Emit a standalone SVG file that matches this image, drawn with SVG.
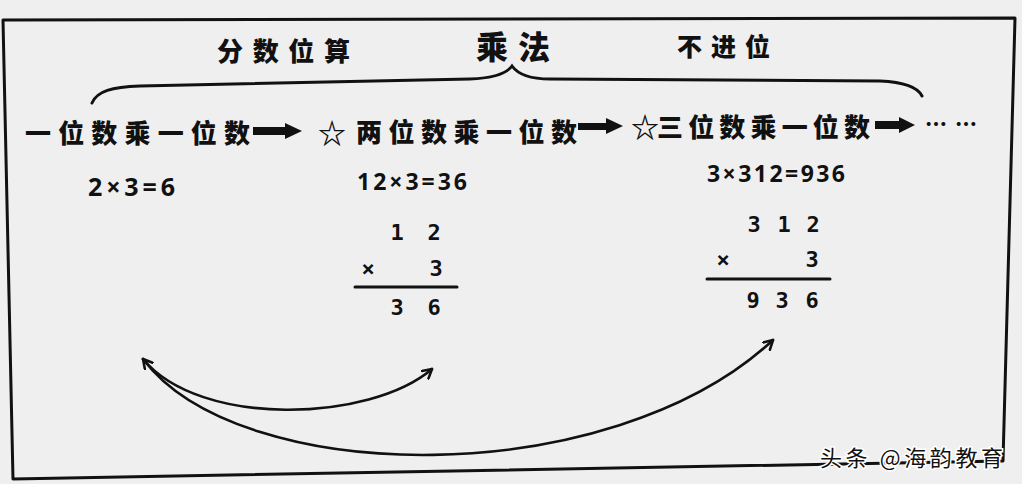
<svg xmlns="http://www.w3.org/2000/svg" width="1022" height="484" viewBox="0 0 1022 484">
<style>
.cjk{font-family:"Noto Sans CJK SC","Noto Sans",sans-serif;font-weight:900;fill:#111}
.eq{font-family:"Open Sans","DejaVu Sans",sans-serif;font-weight:700;fill:#111}
.vd{font-family:"DejaVu Sans Mono","Liberation Mono",monospace;font-weight:bold;font-size:22px;fill:#111;text-anchor:middle}
.ln{fill:none;stroke:#111;stroke-linecap:round}
.blk{fill:#111}
</style>
<defs>
<marker id="chev" viewBox="0 0 12 12" refX="10" refY="6" markerWidth="12" markerHeight="12" markerUnits="userSpaceOnUse" orient="auto-start-reverse">
<path d="M1,1 L10,6 L1,11" fill="none" stroke="#111" stroke-width="2.6" stroke-linecap="round" stroke-linejoin="round"/>
</marker>
</defs>
<rect x="0" y="0" width="1022" height="484" fill="#efeff0"/>
<g id="frame">
<path class="ln" d="M3,20 L1015,18 L1003,461 L13,479 Z" stroke-width="3" stroke-linejoin="round"/>
</g>
<g id="brace">
<path class="ln" stroke-width="3" d="M92,103 C97,91 112,87 140,86 L470,79 C496,78 507,73 512,66 C517,73 528,79 550,79 L880,81 C905,82 918,88 922,96"/>
</g>
<g id="top-labels">
<text class="cjk" x="217" y="61" font-size="26" textLength="133" lengthAdjust="spacing">分数位算</text>
<text class="cjk" x="476" y="59" font-size="32" textLength="74" lengthAdjust="spacing">乘法</text>
<text class="cjk" x="677" y="56" font-size="25" textLength="93" lengthAdjust="spacing">不进位</text>
</g>
<g id="node1">
<text class="cjk" x="25" y="143" font-size="26" textLength="225" lengthAdjust="spacing">一位数乘一位数</text>
<text class="eq" x="88" y="196" font-size="25" textLength="87" lengthAdjust="spacing">2×3=6</text>
</g>
<g id="node2">
<text class="cjk" x="318" y="144" font-size="28">☆</text>
<text class="cjk" x="356" y="142" font-size="26" textLength="221" lengthAdjust="spacing">两位数乘一位数</text>
<text class="eq" x="357" y="190" font-size="23" textLength="110" lengthAdjust="spacing">12×3=36</text>
<text class="vd" x="397" y="240">1</text>
<text class="vd" x="434" y="240">2</text>
<text class="vd" x="368" y="276">×</text>
<text class="vd" x="436" y="276">3</text>
<path class="ln" d="M355,287 L457,287" stroke-width="3"/>
<text class="vd" x="397" y="315">3</text>
<text class="vd" x="434" y="315">6</text>
</g>
<g id="node3">
<text class="cjk" x="631" y="138" font-size="28">☆</text>
<text class="cjk" x="657" y="137" font-size="26" textLength="213" lengthAdjust="spacing">三位数乘一位数</text>
<text class="eq" x="707" y="182" font-size="23" textLength="138" lengthAdjust="spacing">3×312=936</text>
<text class="vd" x="754" y="232">3</text>
<text class="vd" x="784" y="232">1</text>
<text class="vd" x="813" y="232">2</text>
<text class="vd" x="723" y="267">×</text>
<text class="vd" x="812" y="267">3</text>
<path class="ln" d="M707,279 L830,279" stroke-width="3"/>
<text class="vd" x="753" y="308">9</text>
<text class="vd" x="782" y="308">3</text>
<text class="vd" x="812" y="308">6</text>
</g>
<g id="node4">
<text class="cjk" x="925" y="132" font-size="22" textLength="52" lengthAdjust="spacing">……</text>
</g>
<g id="connectors">
<path class="blk" d="M253,127 L285,127 L285,123 L302,131 L285,139 L285,135 L253,135 Z"/>
<path class="blk" d="M578,123 L606,123 L606,118 L623,126 L606,134 L606,130 L578,130 Z"/>
<path class="blk" d="M875,121 L899,121 L899,117 L915,125 L899,133 L899,129 L875,129 Z"/>
<path class="ln" stroke-width="2.6" d="M143,359 C200,428 370,422 432,369" marker-start="url(#chev)" marker-end="url(#chev)"/>
<path class="ln" stroke-width="2.6" d="M143,359 C240,488 610,492 773,340" marker-end="url(#chev)"/>
</g>
<g id="watermark">
<text x="820" y="466" font-family="Noto Sans CJK SC,Noto Sans,sans-serif" font-size="22" fill="#111" stroke="#fff" stroke-width="3" paint-order="stroke" textLength="183" lengthAdjust="spacing">头条 @海韵教育</text>
</g>
</svg>
